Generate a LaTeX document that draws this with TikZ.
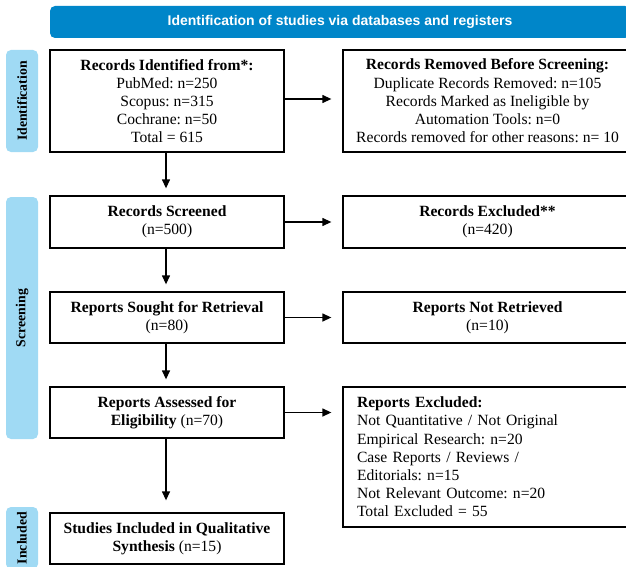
\documentclass[tikz,border=0pt]{standalone}
\usepackage{fontspec}
\setmainfont{Liberation Serif}
\newfontfamily\bannerfont{Liberation Sans}
\usetikzlibrary{arrows.meta}
\definecolor{bannerc}{RGB}{0,134,201}
\definecolor{sidec}{RGB}{160,218,244}
\frenchspacing
\begin{document}
\begin{tikzpicture}[x=1pt,y=-1pt,
  box/.style={draw=black, line width=1.3pt, fill=white, align=center, inner sep=0pt,
    font=\fontsize{15.6}{18.2}\selectfont},
  lbox/.style={box, minimum width=234pt},
  rbox/.style={box, minimum width=289pt},
  side/.style={fill=sidec, rounded corners=5pt, inner sep=0pt, minimum width=32pt},
  sidetext/.style={rotate=90, font=\fontsize{13.8}{15}\selectfont\bfseries},
  arr/.style={line width=1.3pt, -{Triangle[length=9pt,width=8pt]}},
]
\clip (0,0) rectangle (626,567);
\fill[white] (0,0) rectangle (626,567);

% banner
\node[fill=bannerc, rounded corners=5pt, minimum width=580pt, minimum height=32pt, inner sep=0pt,
  text=white, font=\bannerfont\fontsize{14}{16}\selectfont\bfseries] (banner) at (340,22)
  {Identification of studies via databases and registers};

% side labels
\node[side, minimum height=102pt] (sid) at (22,101) {};
\node[sidetext] (sidt) at (sid) {Identification};
\node[side, minimum height=242pt] (sscr) at (22,318) {};
\node[sidetext] (sscrt) at (sscr) {Screening};
\node[side, minimum height=62pt] (sinc) at (22,538) {};
\node[sidetext] (sinct) at (sinc) {Included};

% left column
\node[lbox, minimum height=102pt] (id) at (167,101)
  {{\bfseries Records Identified from*:}\\PubMed: n=250\\Scopus: n=315\\Cochrane: n=50\\Total = 615};
\node[lbox, minimum height=52pt] (scr) at (167,222)
  {{\bfseries Records Screened}\\(n=500)};
\node[lbox, minimum height=51pt] (sought) at (167,317.5)
  {{\bfseries Reports Sought for Retrieval}\\(n=80)};
\node[lbox, minimum height=51pt] (assessed) at (167,412.5)
  {{\bfseries Reports Assessed for}\\{\bfseries Eligibility} (n=70)};
\node[lbox, minimum height=51pt] (incl) at (167,538.5)
  {{\bfseries Studies Included in Qualitative}\\{\bfseries Synthesis} (n=15)};

% right column
\node[rbox, minimum height=102pt] (removed) at (487.5,101)
  {{\bfseries Records Removed Before Screening:}\\Duplicate Records Removed: n=105\\Records Marked as Ineligible by\\Automation Tools: n=0\\Records removed for other reasons: n= 10};
\node[rbox, minimum height=52pt] (excl) at (487.5,222)
  {{\bfseries Records Excluded**}\\(n=420)};
\node[rbox, minimum height=51pt] (notret) at (487.5,317.5)
  {{\bfseries Reports Not Retrieved}\\(n=10)};
\node[rbox, minimum height=140pt, align=left, text width=261pt, inner xsep=14pt] (repexcl) at (487.5,457)
  {{\bfseries Reports Excluded:}\\Not Quantitative / Not Original\\Empirical Research: n=20\\Case Reports / Reviews /\\Editorials: n=15\\Not Relevant Outcome: n=20\\Total Excluded = 55};

% arrows
\draw[arr, shorten >=11pt] (id.east |- 0,99) -- (removed.west |- 0,99);
\draw[arr, shorten >=11pt] (scr) -- (excl);
\draw[arr, shorten >=11pt] (sought) -- (notret);
\draw[arr, shorten >=11pt] (assessed.east) -- (assessed.east -| repexcl.west);
\draw[arr, shorten >=7pt] (id.south -| 166,0) -- (scr.north -| 166,0);
\draw[arr, shorten >=7pt] (scr.south -| 166,0) -- (sought.north -| 166,0);
\draw[arr, shorten >=7pt] (sought.south -| 166,0) -- (assessed.north -| 166,0);
\draw[arr, shorten >=12pt] (assessed.south -| 166,0) -- (incl.north -| 166,0);
\end{tikzpicture}
\end{document}
